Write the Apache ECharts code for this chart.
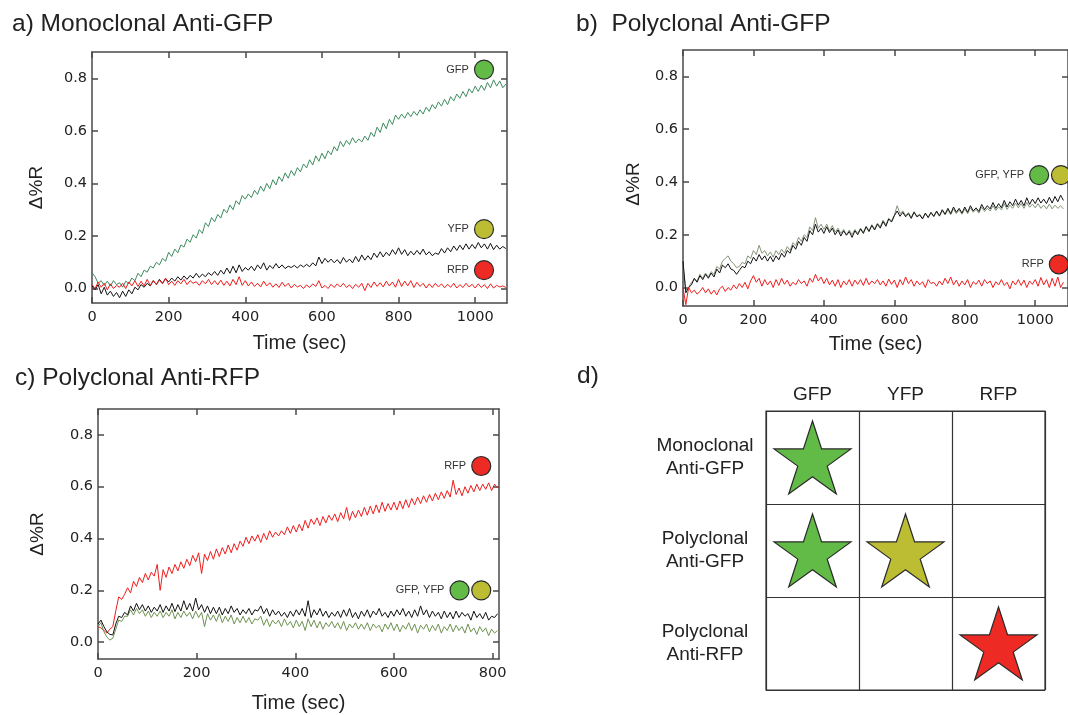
<!DOCTYPE html>
<html><head><meta charset="utf-8">
<script src="https://cdn.jsdelivr.net/npm/echarts@6/dist/echarts.min.js"></script>
<style>html,body{margin:0;padding:0;background:#fff}#c{width:1068px;height:715px}</style>
</head><body><div id="c"></div><script>
// ---------------- data ----------------
const stepAB = 8;   // sampling interval (s), panels a and b
const stepC = 6;    // sampling interval (s), panel c
const yTicks = [0, 0.2, 0.4, 0.6, 0.8];
const xTicksAB = [0, 200, 400, 600, 800, 1000];
const xTicksC = [0, 200, 400, 600, 800];

// a) Monoclonal Anti-GFP
const aGFP = [
.06,.045,.02,.03,.012,.028,.01,.03,.015,.022,
.005,.028,.018,.04,.03,.058,.045,.07,.062,.085,
.078,.1,.09,.115,.104,.138,.122,.15,.136,.166,
.158,.188,.176,.205,.192,.224,.21,.25,.236,.27,
.254,.282,.268,.302,.288,.318,.3,.334,.32,.354,
.34,.36,.346,.374,.358,.39,.37,.4,.38,.414,
.394,.426,.408,.44,.42,.449,.43,.46,.444,.474,
.459,.49,.47,.505,.484,.515,.494,.524,.509,.54,
.524,.56,.54,.564,.548,.574,.554,.569,.558,.58,
.564,.594,.578,.614,.594,.63,.608,.644,.624,.66,
.644,.664,.648,.67,.654,.674,.659,.68,.664,.69,
.674,.7,.684,.71,.694,.72,.7,.73,.714,.74,
.724,.75,.73,.76,.744,.77,.75,.774,.754,.784,
.764,.794,.77,.79,.764,.778];
const aYFP = [
.01,-.005,.015,-.02,.005,-.025,-.01,-.03,-.015,-.035,
-.01,-.03,-.005,-.02,.005,-.005,.015,.005,.02,.01,
.03,.015,.035,.02,.038,.025,.04,.028,.045,.032,
.048,.035,.05,.04,.058,.042,.055,.045,.06,.05,
.065,.05,.07,.055,.078,.058,.085,.06,.09,.065,
.08,.07,.085,.068,.09,.075,.098,.07,.088,.076,
.095,.078,.09,.076,.085,.08,.088,.078,.09,.082,
.092,.083,.098,.086,.12,.095,.115,.1,.112,.098,
.11,.095,.118,.1,.112,.098,.122,.102,.128,.108,
.125,.11,.135,.118,.14,.12,.138,.125,.148,.13,
.155,.13,.148,.125,.142,.128,.145,.13,.15,.128,
.14,.125,.135,.13,.152,.135,.155,.14,.162,.145,
.165,.148,.17,.15,.168,.152,.175,.155,.17,.15,
.172,.148,.165,.15,.16,.152];
const aRFP = [
.015,.0,.025,.005,.02,-.005,.018,.0,.012,.005,
.02,.0,.025,.01,.03,.008,.028,.01,.035,.012,
.03,.015,.032,.018,.04,.015,.028,.012,.03,.018,
.035,.015,.03,.02,.026,.012,.03,.018,.035,.015,
.03,.014,.032,.012,.028,.01,.035,.015,.045,.012,
.03,.01,.025,.008,.02,.006,.028,.01,.022,.005,
.018,.004,.024,.008,.02,.002,.016,.006,.012,.0,
.014,.004,.018,.008,.03,.002,.012,.0,.016,.004,
.018,.006,.02,.004,.014,.0,.016,.005,.02,-.008,
.02,.004,.025,.008,.022,.006,.028,.01,.025,.005,
.035,.008,.028,.01,.03,.004,.024,.008,.02,.002,
.018,.004,.02,.006,.018,.003,.016,.005,.02,.002,
.015,.004,.02,.006,.016,.002,.018,.004,.015,.0,
.018,.002,.012,.006,.01,.004];

// b) Polyclonal Anti-GFP
const bGFP = [
.08,-.01,.0,.02,.03,.025,.05,.035,.055,.04,
.06,.05,.08,.07,.1,.11,.12,.1,.09,.075,
.08,.095,.09,.12,.11,.14,.125,.16,.13,.14,
.12,.135,.115,.14,.125,.145,.13,.155,.14,.17,
.16,.19,.175,.2,.19,.23,.215,.265,.225,.24,
.22,.24,.215,.235,.21,.225,.205,.22,.2,.218,
.2,.22,.205,.225,.21,.232,.215,.238,.222,.244,
.23,.255,.238,.262,.252,.275,.31,.28,.29,.272,
.284,.266,.288,.27,.278,.262,.28,.266,.282,.268,
.286,.27,.29,.275,.294,.276,.298,.28,.294,.278,
.298,.28,.302,.285,.296,.282,.305,.288,.3,.29,
.31,.292,.306,.294,.318,.296,.312,.3,.32,.302,
.318,.3,.322,.304,.316,.302,.318,.3,.312,.298,
.316,.298,.312,.3,.31,.298];
const bYFP = [
.1,-.02,.0,.01,.035,.02,.045,.03,.05,.035,
.055,.04,.07,.055,.085,.075,.09,.07,.065,.05,
.065,.08,.075,.1,.09,.115,.1,.125,.105,.12,
.1,.118,.098,.12,.105,.13,.115,.14,.13,.16,
.145,.175,.16,.19,.175,.215,.2,.24,.21,.225,
.205,.23,.208,.225,.2,.218,.195,.215,.198,.212,
.19,.215,.2,.222,.205,.23,.212,.235,.218,.24,
.225,.25,.232,.26,.248,.272,.29,.27,.285,.268,
.28,.262,.285,.268,.275,.26,.282,.265,.285,.27,
.29,.272,.295,.278,.3,.28,.305,.285,.3,.282,
.305,.285,.31,.29,.302,.288,.315,.295,.31,.298,
.322,.3,.318,.302,.33,.305,.325,.31,.335,.312,
.33,.31,.34,.315,.335,.318,.34,.32,.335,.318,
.342,.32,.345,.325,.35,.33];
const bRFP = [
.0,-.065,.0,-.02,-.01,-.025,-.015,.0,-.02,-.005,
-.025,-.01,-.028,-.005,.005,-.015,.0,-.01,.01,-.005,
.015,.0,.02,-.005,.025,.045,.02,.035,.005,.03,
.01,.025,.0,.03,.008,.035,.012,.028,.005,.02,
.01,.03,.015,.025,.005,.035,.02,.05,.025,.04,
.015,.035,.01,.028,.005,.03,.0,.025,.01,.03,
.005,.028,.012,.03,.008,.035,.01,.025,.015,.03,
.01,.025,.005,.032,.012,.028,.0,.03,.01,.04,
.015,.03,.005,.025,.01,.022,.0,.03,.015,.02,
.005,.025,.01,.035,.015,.04,.01,.028,.005,.025,
.01,.03,.0,.022,.012,.028,.005,.03,.015,.025,
.0,.022,.01,.03,.008,.02,-.005,.025,.01,.03,
.008,.028,.0,.025,.012,.03,.005,.038,.01,.03,
.0,.035,.005,.04,.0,.02];

// c) Polyclonal Anti-RFP
const cRFP = [
.06,.055,.045,.035,.05,.06,.12,.175,.165,.185,
.21,.19,.235,.215,.25,.23,.265,.24,.27,.255,
.3,.2,.28,.25,.29,.265,.3,.275,.31,.285,
.32,.295,.335,.31,.345,.265,.34,.315,.35,.32,
.36,.33,.365,.34,.375,.345,.38,.355,.39,.37,
.405,.38,.41,.39,.415,.385,.42,.395,.43,.405,
.425,.41,.43,.415,.445,.42,.45,.425,.455,.43,
.47,.44,.475,.455,.48,.45,.485,.46,.49,.47,
.495,.465,.5,.475,.52,.47,.505,.48,.51,.485,
.52,.49,.525,.495,.53,.5,.54,.505,.535,.51,
.54,.51,.545,.515,.55,.52,.555,.53,.56,.535,
.565,.54,.57,.545,.575,.55,.58,.555,.585,.56,
.625,.57,.595,.565,.6,.575,.605,.58,.61,.585,
.61,.59,.615,.585,.61,.595];
const cGFP = [
.06,.075,.04,.02,.008,.015,.05,.085,.08,.1,
.1,.125,.105,.13,.11,.125,.1,.12,.095,.115,
.1,.12,.095,.115,.1,.125,.09,.115,.095,.12,
.1,.115,.09,.12,.095,.115,.06,.11,.085,.105,
.08,.11,.075,.1,.08,.105,.07,.095,.075,.1,
.075,.095,.07,.09,.085,.1,.065,.09,.06,.085,
.07,.085,.06,.09,.065,.08,.055,.085,.06,.08,
.045,.09,.06,.085,.055,.08,.05,.075,.06,.08,
.055,.075,.05,.08,.045,.07,.055,.075,.05,.07,
.05,.075,.045,.07,.055,.065,.04,.07,.05,.075,
.045,.07,.04,.065,.05,.075,.045,.07,.035,.065,
.05,.07,.04,.065,.045,.07,.035,.06,.045,.07,
.04,.065,.045,.06,.035,.07,.04,.055,.03,.06,
.04,.055,.025,.05,.035,.045];
const cYFP = [
.07,.085,.06,.04,.03,.028,.07,.1,.095,.115,
.105,.14,.12,.15,.125,.145,.12,.14,.115,.135,
.12,.145,.115,.14,.12,.15,.118,.145,.12,.16,
.125,.15,.12,.17,.125,.145,.115,.14,.11,.135,
.11,.135,.105,.13,.11,.14,.115,.13,.105,.125,
.11,.13,.105,.125,.12,.14,.11,.13,.1,.125,
.105,.12,.1,.115,.095,.12,.1,.125,.105,.13,
.1,.16,.095,.125,.105,.13,.1,.12,.095,.115,
.1,.12,.095,.125,.1,.13,.095,.115,.09,.12,
.1,.125,.095,.12,.105,.13,.1,.115,.095,.12,
.1,.125,.105,.13,.1,.12,.095,.125,.1,.14,
.105,.125,.095,.12,.1,.115,.09,.12,.095,.115,
.09,.12,.095,.115,.1,.11,.085,.12,.095,.11,
.09,.115,.085,.1,.095,.11];

// d) summary table
const tableCols = ['GFP', 'YFP', 'RFP'];
const tableRows = ['Monoclonal\nAnti-GFP', 'Polyclonal\nAnti-GFP', 'Polyclonal\nAnti-RFP'];
const tableHits = [[0, 0, 'GFP'], [0, 1, 'GFP'], [1, 1, 'YFP'], [2, 2, 'RFP']]; // [column, row, protein]

// ---------------- styles ----------------
const dot = {GFP: '#63bb47', YFP: '#bcbd33', RFP: '#ee2a24'};
const frame = {color: '#4a4a4a', width: 1.5};
const tickFont = {fontFamily: 'DejaVu Sans', fontSize: 14.5, color: '#222'};
const sansFont = 'Liberation Sans';

function pairs(vals, step) { return vals.map((v, i) => [i * step, v]); }

function xAxes(gi, max, ticks, gap) {
  return [
    {gridIndex: gi, type: 'value', min: 0, max: max, position: 'bottom',
     axisLine: {show: true, onZero: false, lineStyle: frame},
     axisTick: {show: true, inside: true, length: 6, customValues: ticks, lineStyle: frame},
     axisLabel: Object.assign({customValues: ticks, margin: 7, formatter: v => String(v)}, tickFont),
     splitLine: {show: false},
     name: 'Time (sec)', nameLocation: 'middle', nameGap: gap,
     nameTextStyle: {fontFamily: sansFont, fontSize: 20, color: '#222'}},
    {gridIndex: gi, type: 'value', min: 0, max: max, position: 'top',
     axisLine: {show: true, onZero: false, lineStyle: frame},
     axisTick: {show: true, inside: true, length: 6, customValues: ticks, lineStyle: frame},
     axisLabel: {show: false}, splitLine: {show: false}}
  ];
}
function yAxes(gi, min, gap, shift) {
  return [
    {gridIndex: gi, type: 'value', min: min, max: 0.9, position: 'left',
     axisLine: {show: true, onZero: false, lineStyle: frame},
     axisTick: {show: true, inside: true, length: 6, customValues: yTicks, lineStyle: frame},
     axisLabel: Object.assign({customValues: yTicks, margin: 5, formatter: v => v.toFixed(1)}, tickFont),
     splitLine: {show: false},
     name: 'Δ%R', nameLocation: 'middle', nameGap: gap,
     nameTextStyle: {fontFamily: sansFont, fontSize: 19, color: '#222', padding: [0, shift, 0, 0]}},
    {gridIndex: gi, type: 'value', min: min, max: 0.9, position: 'right',
     axisLine: {show: true, onZero: false, lineStyle: frame},
     axisTick: {show: true, inside: true, length: 6, customValues: yTicks, lineStyle: frame},
     axisLabel: {show: false}, splitLine: {show: false}}
  ];
}
function mp(coord, prot, text) {
  return {coord: coord, symbol: 'circle', symbolSize: 19,
    itemStyle: {color: dot[prot], borderColor: '#2a2a2a', borderWidth: 1.2},
    label: text ? {show: true, position: 'left', distance: 5, formatter: text,
      color: '#333', fontSize: 11, fontFamily: sansFont} : {show: false}};
}
function line(name, vals, step, axis, color, marks) {
  const s = {name: name, type: 'line', data: pairs(vals, step), xAxisIndex: axis[0], yAxisIndex: axis[1],
    showSymbol: false, symbol: 'none', lineStyle: {color: color, width: 1}, itemStyle: {color: color},
    emphasis: {disabled: true}, silent: true, animation: false};
  if (marks) s.markPoint = {silent: true, animation: false, data: marks};
  return s;
}

// star symbol path (regular 5-point star)
let sp = [];
for (let k = 0; k < 10; k++) {
  const ang = -Math.PI / 2 + k * Math.PI / 5, r = k % 2 ? 38.2 : 100;
  sp.push((k ? 'L' : 'M') + (r * Math.cos(ang)).toFixed(2) + ' ' + (r * Math.sin(ang)).toFixed(2));
}
const starPath = 'path://' + sp.join(' ') + ' Z';

const titleStyle = {fontFamily: sansFont, fontSize: 24.5, fontWeight: 'normal', color: '#222'};

const option = {
  backgroundColor: '#fff',
  animation: false,
  title: [
    {text: 'a) Monoclonal Anti-GFP', left: 12, top: 12, padding: 0, textStyle: titleStyle},
    {text: 'b)  Polyclonal Anti-GFP', left: 576, top: 12, padding: 0, textStyle: titleStyle},
    {text: 'c) Polyclonal Anti-RFP', left: 15, top: 366, padding: 0, textStyle: titleStyle},
    {text: 'd)', left: 577, top: 364, padding: 0, textStyle: titleStyle}
  ],
  grid: [
    {left: 92, top: 52, width: 415, height: 251},
    {left: 683, top: 50, width: 387, height: 256},
    {left: 98, top: 409, width: 401, height: 250},
    {left: 766, top: 411, width: 279, height: 279, show: true, borderColor: '#333', borderWidth: 1.2, backgroundColor: 'transparent'}
  ],
  xAxis: [].concat(
    xAxes(0, 1083, xTicksAB, 30),
    xAxes(1, 1093, xTicksAB, 28),
    xAxes(2, 813, xTicksC, 34),
    [{gridIndex: 3, type: 'category', data: tableCols, position: 'top',
      axisLine: {show: false}, axisTick: {show: false},
      axisLabel: {margin: 7, fontFamily: sansFont, fontSize: 19, color: '#222'},
      splitLine: {show: true, interval: 0, lineStyle: {color: '#333', width: 1.2}}}]
  ),
  yAxis: [].concat(
    yAxes(0, -0.055, 46, 20),
    yAxes(1, -0.07, 40, 12),
    yAxes(2, -0.065, 51, 0),
    [{gridIndex: 3, type: 'category', data: tableRows, inverse: true,
      axisLine: {show: false}, axisTick: {show: false},
      axisLabel: {margin: 61, align: 'center', lineHeight: 23, padding: [14, 0, 0, 0],
        fontFamily: sansFont, fontSize: 19, color: '#222'},
      splitLine: {show: true, interval: 0, lineStyle: {color: '#333', width: 1.2}}}]
  ),
  series: [
    line('GFP', aGFP, stepAB, [0, 0], '#3d8c60', [mp([1023, 0.833], 'GFP', 'GFP')]),
    line('YFP', aYFP, stepAB, [0, 0], '#111', [mp([1023, 0.226], 'YFP', 'YFP')]),
    line('RFP', aRFP, stepAB, [0, 0], '#f01c1c', [mp([1023, 0.07], 'RFP', 'RFP')]),

    line('GFP', bGFP, stepAB, [2, 2], '#849479', [mp([1011, 0.426], 'GFP', 'GFP, YFP'), mp([1073, 0.426], 'YFP', '')]),
    line('YFP', bYFP, stepAB, [2, 2], '#111'),
    line('RFP', bRFP, stepAB, [2, 2], '#f01c1c', [mp([1067, 0.088], 'RFP', 'RFP')]),

    line('RFP', cRFP, stepC, [4, 4], '#f01c1c', [mp([777, 0.68], 'RFP', 'RFP')]),
    line('GFP', cGFP, stepC, [4, 4], '#6f9352', [mp([733, 0.2], 'GFP', 'GFP, YFP'), mp([777, 0.2], 'YFP', '')]),
    line('YFP', cYFP, stepC, [4, 4], '#111'),

    {type: 'scatter', xAxisIndex: 6, yAxisIndex: 6, symbol: starPath, symbolSize: [77, 73],
     silent: true, animation: false,
     itemStyle: {borderColor: '#2a2a2a', borderWidth: 1.2, opacity: 1},
     data: tableHits.map(h => ({value: [h[0], h[1]], itemStyle: {color: dot[h[2]]}}))}
  ]
};
echarts.init(document.getElementById('c'), null, {renderer: 'canvas'}).setOption(option);
</script></body></html>
